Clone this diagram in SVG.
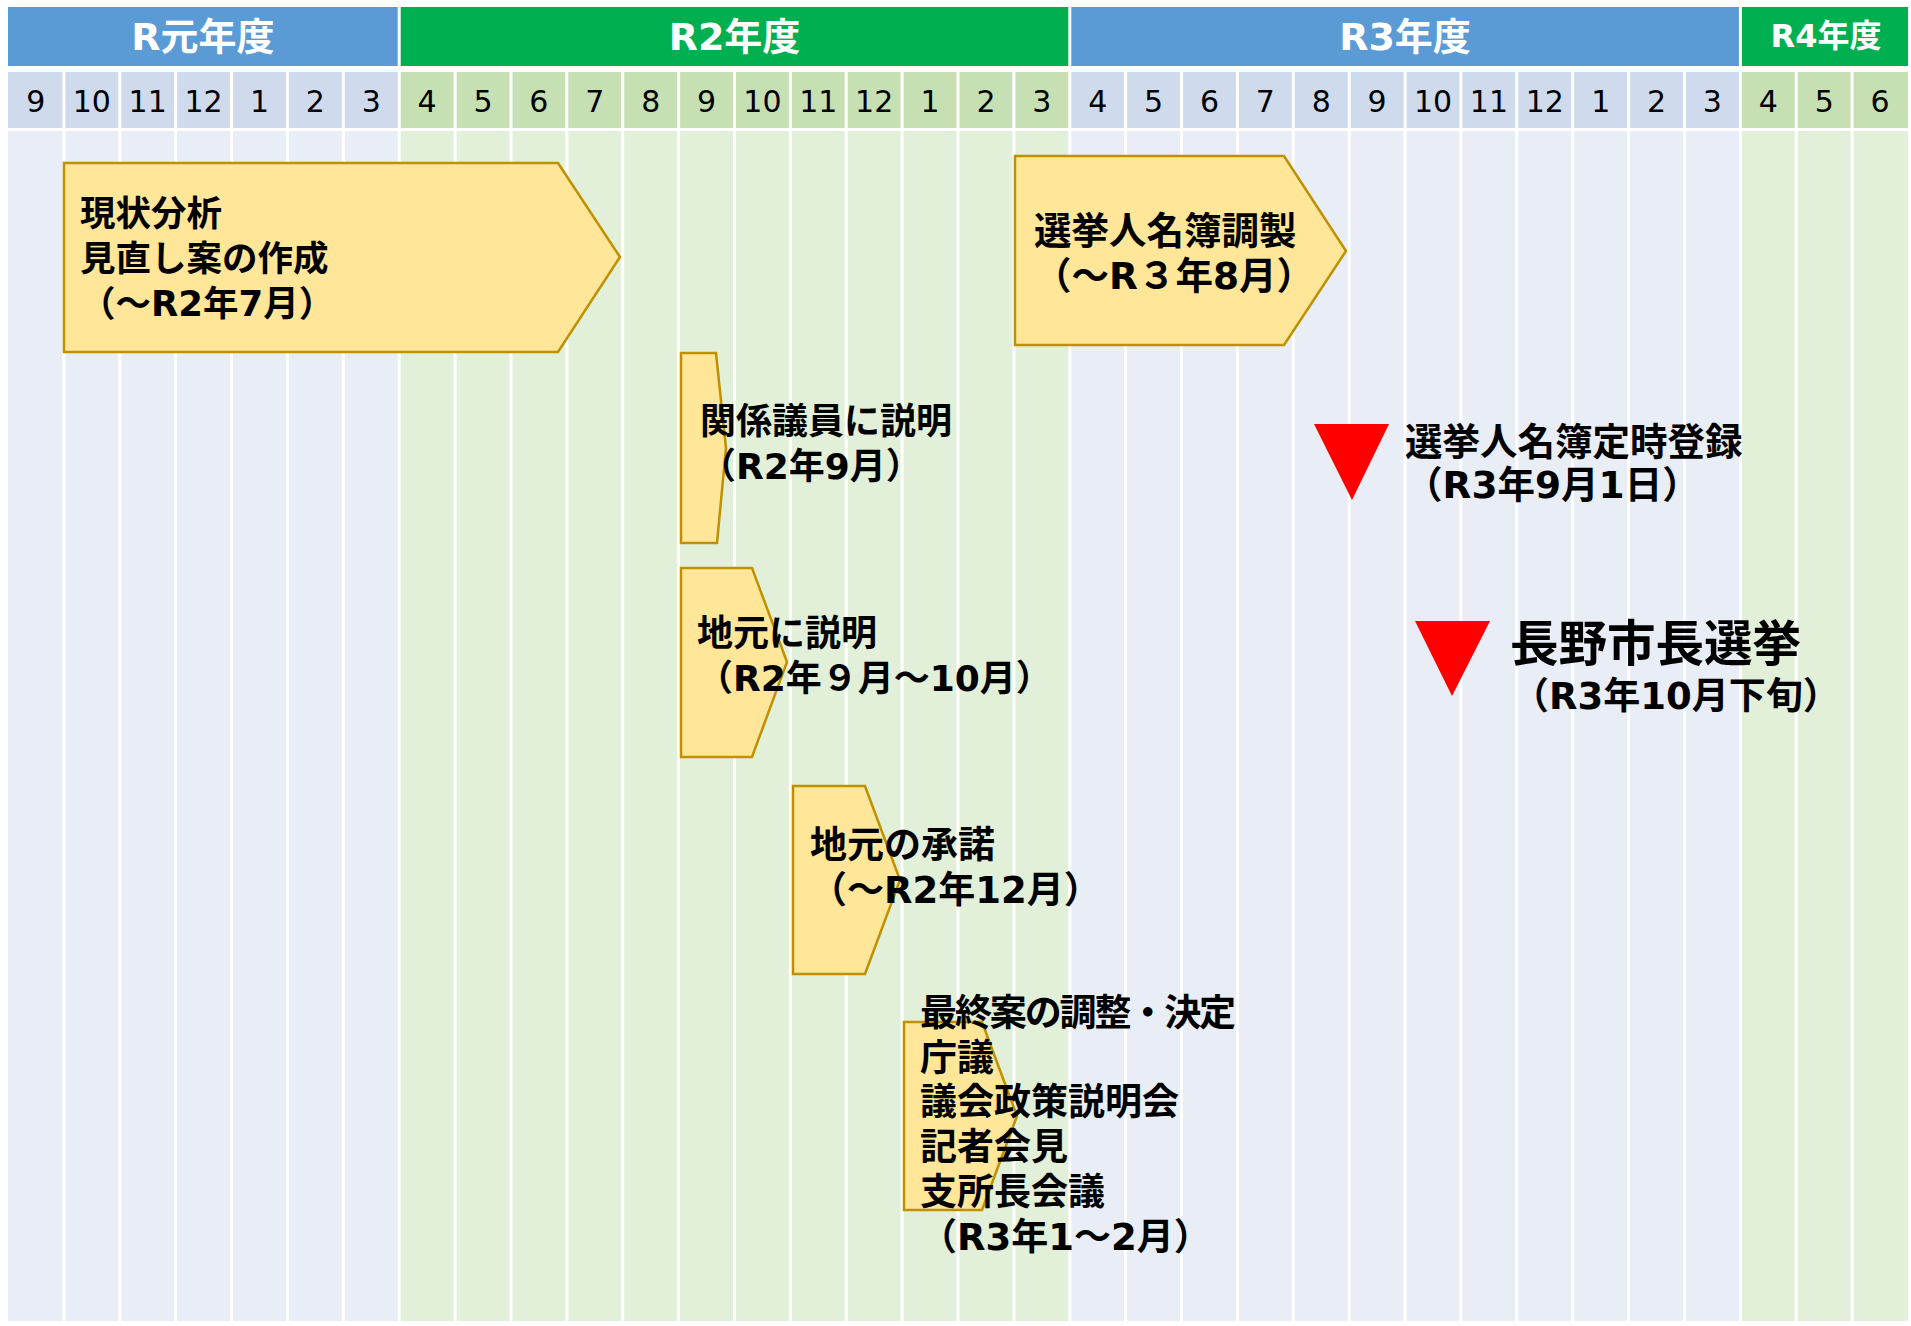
<svg xmlns="http://www.w3.org/2000/svg" width="1911" height="1326" viewBox="0 0 1911 1326">
<style>
.hdr{font-family:"DejaVu Sans","Noto Sans CJK JP",sans-serif;font-weight:bold;font-size:38px;fill:#fff;text-anchor:middle}
.mon{font-family:"DejaVu Sans","Noto Sans CJK JP",sans-serif;font-size:30px;fill:#000;text-anchor:middle}
.lbl{font-family:"DejaVu Sans","Noto Sans CJK JP",sans-serif;font-weight:bold;font-size:36px;fill:#000}
.box{fill:#FFE699;stroke:#BF9000;stroke-width:2.5}
.tri{fill:#FF0000}
.gl{stroke:#fff;stroke-width:3}
</style>
<rect width="1911" height="1326" fill="#fff"/>
<g id="grid">
<rect x="8" y="7" width="389.7" height="59" fill="#5B9BD5"/>
<rect x="400.7" y="7" width="667.6" height="59" fill="#00B050"/>
<rect x="1071.3" y="7" width="667.6" height="59" fill="#5B9BD5"/>
<rect x="1741.9" y="7" width="166.1" height="59" fill="#00B050"/>
<rect x="8" y="72" width="391.2" height="56" fill="#CFDAEC"/>
<rect x="399.2" y="72" width="670.6" height="56" fill="#C6E0B4"/>
<rect x="1069.8" y="72" width="670.6" height="56" fill="#CFDAEC"/>
<rect x="1740.4" y="72" width="167.6" height="56" fill="#C6E0B4"/>
<rect x="8" y="131" width="391.2" height="1190" fill="#E9EDF6"/>
<rect x="399.2" y="131" width="670.6" height="1190" fill="#E2EFD9"/>
<rect x="1069.8" y="131" width="670.6" height="1190" fill="#E9EDF6"/>
<rect x="1740.4" y="131" width="167.6" height="1190" fill="#E2EFD9"/>
<g class="gl">
<line x1="63.9" y1="66" x2="63.9" y2="1322"/><line x1="119.8" y1="66" x2="119.8" y2="1322"/><line x1="175.6" y1="66" x2="175.6" y2="1322"/><line x1="231.5" y1="66" x2="231.5" y2="1322"/><line x1="287.4" y1="66" x2="287.4" y2="1322"/><line x1="343.3" y1="66" x2="343.3" y2="1322"/><line x1="399.2" y1="66" x2="399.2" y2="1322"/><line x1="455.1" y1="66" x2="455.1" y2="1322"/><line x1="511" y1="66" x2="511" y2="1322"/><line x1="566.8" y1="66" x2="566.8" y2="1322"/><line x1="622.7" y1="66" x2="622.7" y2="1322"/><line x1="678.6" y1="66" x2="678.6" y2="1322"/><line x1="734.5" y1="66" x2="734.5" y2="1322"/><line x1="790.4" y1="66" x2="790.4" y2="1322"/><line x1="846.2" y1="66" x2="846.2" y2="1322"/><line x1="902.1" y1="66" x2="902.1" y2="1322"/><line x1="958" y1="66" x2="958" y2="1322"/><line x1="1013.9" y1="66" x2="1013.9" y2="1322"/><line x1="1069.8" y1="66" x2="1069.8" y2="1322"/><line x1="1125.6" y1="66" x2="1125.6" y2="1322"/><line x1="1181.5" y1="66" x2="1181.5" y2="1322"/><line x1="1237.4" y1="66" x2="1237.4" y2="1322"/><line x1="1293.3" y1="66" x2="1293.3" y2="1322"/><line x1="1349.2" y1="66" x2="1349.2" y2="1322"/><line x1="1405.1" y1="66" x2="1405.1" y2="1322"/><line x1="1460.9" y1="66" x2="1460.9" y2="1322"/><line x1="1516.8" y1="66" x2="1516.8" y2="1322"/><line x1="1572.7" y1="66" x2="1572.7" y2="1322"/><line x1="1628.6" y1="66" x2="1628.6" y2="1322"/><line x1="1684.5" y1="66" x2="1684.5" y2="1322"/><line x1="1740.4" y1="66" x2="1740.4" y2="1322"/><line x1="1796.2" y1="66" x2="1796.2" y2="1322"/><line x1="1852.1" y1="66" x2="1852.1" y2="1322"/>
</g>
<text class="hdr" x="203" y="50">R元年度</text>
<text class="hdr" x="734.5" y="50">R2年度</text>
<text class="hdr" x="1405" y="50">R3年度</text>
<text class="hdr" x="1826" y="47" style="font-size:32px">R4年度</text>
<g class="mon">
<text x="35.9" y="112">9</text><text x="91.8" y="112">10</text><text x="147.7" y="112">11</text><text x="203.6" y="112">12</text><text x="259.5" y="112">1</text><text x="315.4" y="112">2</text><text x="371.2" y="112">3</text>
<text x="427.1" y="112">4</text><text x="483" y="112">5</text><text x="538.9" y="112">6</text><text x="594.8" y="112">7</text><text x="650.7" y="112">8</text><text x="706.5" y="112">9</text><text x="762.4" y="112">10</text><text x="818.3" y="112">11</text><text x="874.2" y="112">12</text><text x="930.1" y="112">1</text><text x="986" y="112">2</text><text x="1041.8" y="112">3</text>
<text x="1097.7" y="112">4</text><text x="1153.6" y="112">5</text><text x="1209.5" y="112">6</text><text x="1265.4" y="112">7</text><text x="1321.3" y="112">8</text><text x="1377.1" y="112">9</text><text x="1433" y="112">10</text><text x="1488.9" y="112">11</text><text x="1544.8" y="112">12</text><text x="1600.7" y="112">1</text><text x="1656.6" y="112">2</text><text x="1712.4" y="112">3</text>
<text x="1768.3" y="112">4</text><text x="1824.2" y="112">5</text><text x="1880.1" y="112">6</text>
</g>
</g>
<g id="connectors"/>
<g id="node-genjo">
<polygon class="box" points="64,163 558,163 620,257 558,352 64,352"/>
<text class="lbl" x="80" y="226" style="font-size:35.5px">現状分析</text>
<text class="lbl" x="80" y="271" style="font-size:35.5px">見直し案の作成</text>
<text class="lbl" x="80" y="316" style="font-size:35.5px">（～R2年7月）</text>
</g>
<g id="node-meibo">
<polygon class="box" points="1015,156 1284,156 1346,251 1284,345 1015,345"/>
<text class="lbl" x="1034" y="244" style="font-size:37.5px">選挙人名簿調製</text>
<text class="lbl" x="1034" y="289" style="font-size:37.5px">（～R３年8月）</text>
</g>
<g id="node-giin">
<polygon class="box" points="681,353 716,353 726,448 717,543 681,543"/>
<text class="lbl" x="700" y="434">関係議員に説明</text>
<text class="lbl" x="700" y="479">（R2年9月）</text>
</g>
<g id="node-jimoto">
<polygon class="box" points="681,568 752,568 787,662 752,757 681,757"/>
<text class="lbl" x="697" y="646">地元に説明</text>
<text class="lbl" x="697" y="691">（R2年９月～10月）</text>
</g>
<g id="node-shodaku">
<polygon class="box" points="793,786 865,786 900,880 865,974 793,974"/>
<text class="lbl" x="810" y="858" style="font-size:37px">地元の承諾</text>
<text class="lbl" x="810" y="903" style="font-size:37px">（～R2年12月）</text>
</g>
<g id="node-saishu">
<polygon class="box" points="904,1022 982,1022 1017,1116 982,1210 904,1210"/>
<text class="lbl" x="920" y="1026" style="font-size:37px" textLength="316" lengthAdjust="spacing">最終案の調整・決定</text>
<text class="lbl" x="920" y="1071" style="font-size:37px">庁議</text>
<text class="lbl" x="920" y="1115" style="font-size:37px">議会政策説明会</text>
<text class="lbl" x="920" y="1160" style="font-size:37px">記者会見</text>
<text class="lbl" x="920" y="1205" style="font-size:37px">支所長会議</text>
<text class="lbl" x="920" y="1250" style="font-size:37px">（R3年1～2月）</text>
</g>
<g id="node-teiji">
<polygon class="tri" points="1314,424 1389,424 1352,500"/>
<text class="lbl" x="1405" y="455" style="font-size:37.5px">選挙人名簿定時登録</text>
<text class="lbl" x="1405" y="498" style="font-size:37.5px">（R3年9月1日）</text>
</g>
<g id="node-senkyo">
<polygon class="tri" points="1415,621 1490,621 1452,696"/>
<text class="lbl" x="1510" y="661" style="font-size:48.5px">長野市長選挙</text>
<text class="lbl" x="1512" y="709" style="font-size:37px">（R3年10月下旬）</text>
</g>
</svg>
